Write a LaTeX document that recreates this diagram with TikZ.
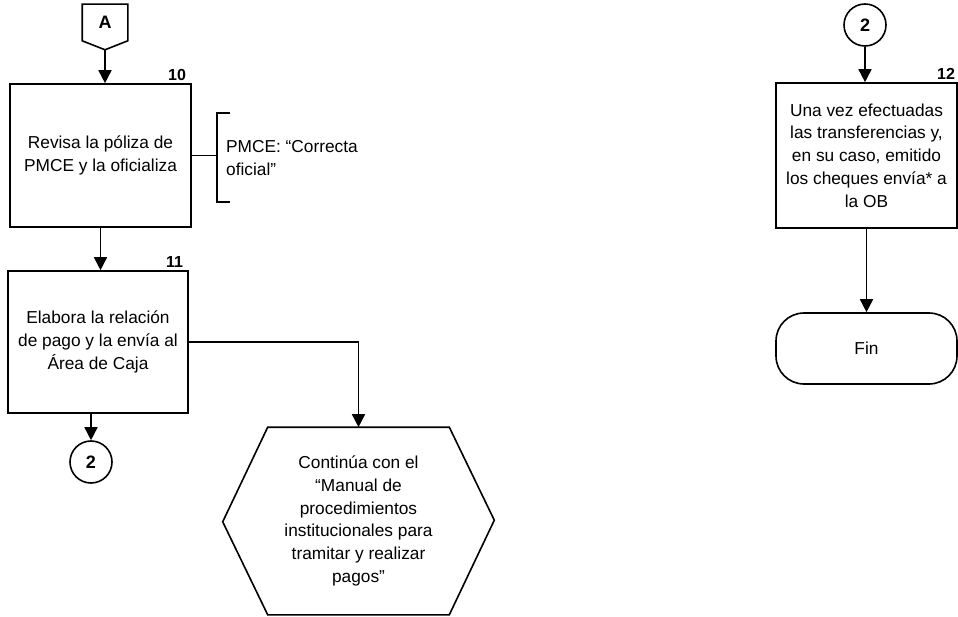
\documentclass[tikz,border=0pt]{standalone}
\usepackage{fontspec}
\setmainfont{Liberation Sans}
\usetikzlibrary{arrows.meta,positioning,calc}

\begin{document}
\begin{tikzpicture}[
  x=1pt, y=-1pt,
  font=\fontsize{17.3}{22.8}\selectfont, >={Triangle[width=13pt,length=13pt]},
  line width=1.6pt,
  act/.style={draw, align=center, minimum width=181pt, minimum height=143pt, inner sep=2pt},
  conn/.style={draw, circle, minimum size=42pt, inner sep=0pt, font=\fontsize{18}{20}\selectfont\bfseries},
  offpage/.style={minimum width=44pt, minimum height=35pt, inner sep=0pt, font=\fontsize{18}{20}\selectfont\bfseries},
  stepnum/.style={anchor=south east, font=\fontsize{16}{16}\selectfont\bfseries, inner sep=2pt},
  term/.style={draw, rounded corners=28pt, minimum width=181pt, minimum height=71pt},
  flow/.style={->},
]
  \useasboundingbox (0,0) rectangle (958,617);

  % left column
  \node[offpage] (A) at (105,22.5) {A};
  \draw (A.north west) -- (A.north east) -- (A.south east)
    -- ($(A.south)+(0,9)$) coordinate (Atip) -- (A.south west) -- cycle;

  \node[act] (b10) at (100.5,155.5) {Revisa la póliza de\\PMCE y la oficializa};
  \node[stepnum, xshift=-3pt] at (b10.north east) {10};
  \coordinate (brk) at (217,155.5);
  \draw (b10.east) -- (brk);
  \draw ($(brk)+(13,-42.5)$) -- ++(-13,0) -- ++(0,89) -- ++(13,0);
  \node[anchor=west, align=left] (note10) at (222,158) {PMCE: “Correcta\\oficial”};

  \node[act, minimum width=180pt, minimum height=142pt] (b11) at (98,342)
    {Elabora la relación\\de pago y la envía al\\Área de Caja};
  \node[stepnum, xshift=-3pt] at (b11.north east) {11};

  \node[conn] (c2a) at (91,462) {2};

  \node[minimum width=180pt, minimum height=186pt, align=center, inner sep=0pt] (hex) at (358.5,521)
    {Continúa con el\\“Manual de\\procedimientos\\institucionales para\\tramitar y realizar\\pagos”};
  \draw (hex.north west) -- (hex.north east) -- ++(45,93) -- (hex.south east)
    -- (hex.south west) -- ++(-45,-93) -- cycle;

  % right column
  \node[conn] (c2b) at (865,25) {2};
  \node[act, minimum height=145pt] (b12) at (866.5,155.5)
    {Una vez efectuadas\\las transferencias y,\\en su caso, emitido\\los cheques envía* a\\la OB};
  \node[stepnum] at (b12.north east) {12};
  \node[term] (fin) at (866.5,348.5) {Fin};

  % connectors
  \draw[flow] (Atip) -- (Atip |- b10.north);
  \draw[flow] (b10.south) -- (b10.south |- b11.north);
  \draw[flow] (c2a |- b11.south) -- (c2a.north);
  \draw[flow] (b11.east) -| (hex.north);
  \draw[flow] (c2b.south) -- (c2b.south |- b12.north);
  \draw[flow] (b12.south) -- (fin.north);
\end{tikzpicture}
\end{document}
